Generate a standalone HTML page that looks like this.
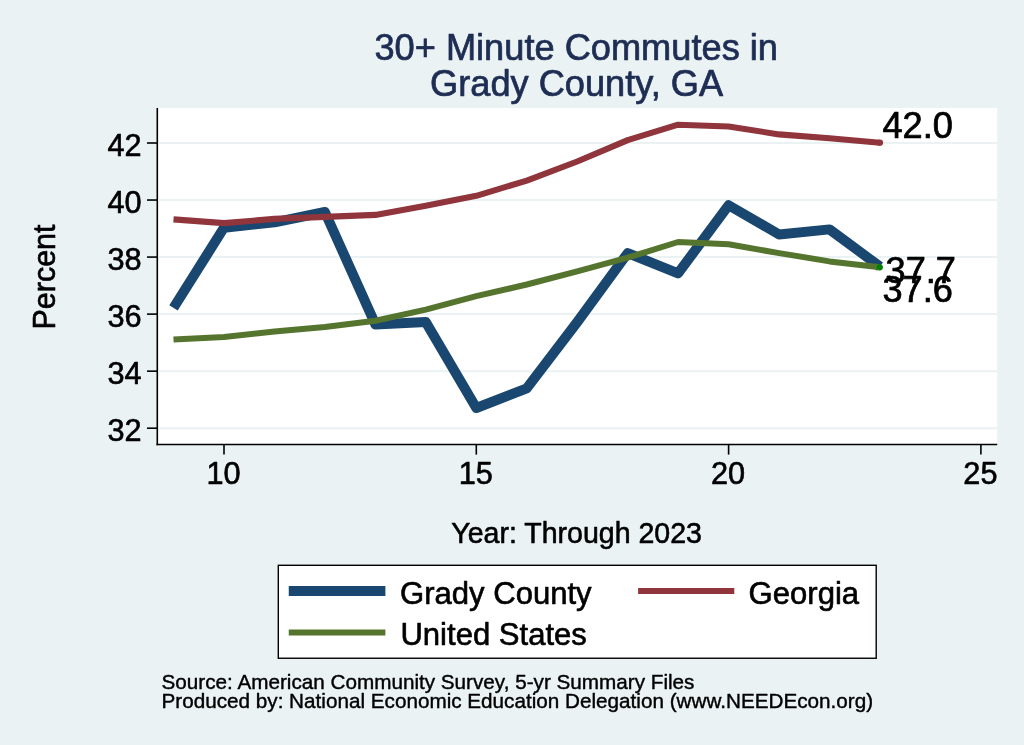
<!DOCTYPE html>
<html><head><meta charset="utf-8"><title>30+ Minute Commutes in Grady County, GA</title>
<style>
html,body{margin:0;padding:0;background:#eaf2f3;}
svg{display:block;font-family:"Liberation Sans",Arial,Helvetica,sans-serif;}
</style></head><body>
<svg width="1024" height="745" viewBox="0 0 1024 745">
<rect width="1024" height="745" fill="#eaf2f3"/>
<rect x="158" y="108" width="839.2" height="336.4" fill="#ffffff"/>
<g stroke="#eaf2f3" stroke-width="2"><line x1="159.2" x2="997.1" y1="428.20" y2="428.20"/><line x1="159.2" x2="997.1" y1="371.16" y2="371.16"/><line x1="159.2" x2="997.1" y1="314.12" y2="314.12"/><line x1="159.2" x2="997.1" y1="257.08" y2="257.08"/><line x1="159.2" x2="997.1" y1="200.04" y2="200.04"/><line x1="159.2" x2="997.1" y1="143.00" y2="143.00"/></g>
<polyline points="173.5,307.8 224.0,227.7 274.5,222.3 324.9,212.0 375.4,324.4 425.8,322.1 476.3,408.0 526.8,388.3 577.2,322.1 627.7,253.1 678.1,273.3 728.6,205.2 779.1,234.5 829.5,229.4 880.0,266.6" fill="none" stroke="#1a476f" stroke-width="10" stroke-linejoin="round"/>
<polyline points="173.5,219.4 224.0,223.1 274.5,218.9 324.9,216.9 375.4,214.9 425.8,205.7 476.3,195.8 526.8,180.6 577.2,161.5 627.7,140.1 678.1,124.7 728.6,126.5 779.1,134.4 829.5,138.2 880.0,142.7" fill="none" stroke="#90353b" stroke-width="6.1" stroke-linejoin="round"/>
<polyline points="173.5,339.5 224.0,336.9 274.5,331.5 324.9,327.0 375.4,320.7 425.8,309.6 476.3,296.2 526.8,284.5 577.2,271.3 627.7,257.7 678.1,242.0 728.6,244.2 779.1,253.1 829.5,261.4 880.0,267.3" fill="none" stroke="#55752f" stroke-width="6" stroke-linejoin="round"/>
<circle cx="880.0" cy="142.7" r="3.1" fill="#90353b"/>
<circle cx="879.8" cy="267.3" r="3.1" fill="#008000"/>
<g stroke="#000" stroke-width="1.6">
<line x1="157.3" x2="157.3" y1="108" y2="445.2"/>
<line x1="156.5" x2="997.2" y1="444.5" y2="444.5" stroke-width="1.4"/>
<line x1="147" x2="157.3" y1="428.20" y2="428.20"/><line x1="147" x2="157.3" y1="371.16" y2="371.16"/><line x1="147" x2="157.3" y1="314.12" y2="314.12"/><line x1="147" x2="157.3" y1="257.08" y2="257.08"/><line x1="147" x2="157.3" y1="200.04" y2="200.04"/><line x1="147" x2="157.3" y1="143.00" y2="143.00"/><line y1="444.4" y2="454.6" x1="224.00" x2="224.00"/><line y1="444.4" y2="454.6" x1="476.30" x2="476.30"/><line y1="444.4" y2="454.6" x1="728.60" x2="728.60"/><line y1="444.4" y2="454.6" x1="980.90" x2="980.90"/>
</g>
<rect x="278.3" y="565.3" width="597.9" height="92.95" fill="#fff" stroke="#000" stroke-width="1.4"/>
<line x1="288.75" x2="385.4" y1="591" y2="591" stroke="#1a476f" stroke-width="10.2"/>
<line x1="288.75" x2="385.4" y1="632.5" y2="632.5" stroke="#55752f" stroke-width="6"/>
<line x1="638.1" x2="734.3" y1="591" y2="591" stroke="#90353b" stroke-width="6"/>
<text transform="translate(141.60,441.30) scale(1,1.02)" font-size="30.7" text-anchor="end" fill="#000" stroke="#000" stroke-width="0.61" stroke-linejoin="round">32</text><text transform="translate(141.60,384.26) scale(1,1.02)" font-size="30.7" text-anchor="end" fill="#000" stroke="#000" stroke-width="0.61" stroke-linejoin="round">34</text><text transform="translate(141.60,327.22) scale(1,1.02)" font-size="30.7" text-anchor="end" fill="#000" stroke="#000" stroke-width="0.61" stroke-linejoin="round">36</text><text transform="translate(141.60,270.18) scale(1,1.02)" font-size="30.7" text-anchor="end" fill="#000" stroke="#000" stroke-width="0.61" stroke-linejoin="round">38</text><text transform="translate(141.60,213.14) scale(1,1.02)" font-size="30.7" text-anchor="end" fill="#000" stroke="#000" stroke-width="0.61" stroke-linejoin="round">40</text><text transform="translate(141.60,156.10) scale(1,1.02)" font-size="30.7" text-anchor="end" fill="#000" stroke="#000" stroke-width="0.61" stroke-linejoin="round">42</text>
<text transform="translate(223.50,484.00) scale(1,1.02)" font-size="30.7" text-anchor="middle" fill="#000" stroke="#000" stroke-width="0.61" stroke-linejoin="round">10</text><text transform="translate(475.80,484.00) scale(1,1.02)" font-size="30.7" text-anchor="middle" fill="#000" stroke="#000" stroke-width="0.61" stroke-linejoin="round">15</text><text transform="translate(728.10,484.00) scale(1,1.02)" font-size="30.7" text-anchor="middle" fill="#000" stroke="#000" stroke-width="0.61" stroke-linejoin="round">20</text><text transform="translate(980.40,484.00) scale(1,1.02)" font-size="30.7" text-anchor="middle" fill="#000" stroke="#000" stroke-width="0.61" stroke-linejoin="round">25</text>
<text transform="translate(882.40,137.90) scale(1,1.0)" font-size="36.2" text-anchor="start" fill="#000" stroke="#000" stroke-width="0.72" stroke-linejoin="round">42.0</text><text transform="translate(885.50,282.50) scale(1,1.0)" font-size="36.2" text-anchor="start" fill="#000" stroke="#000" stroke-width="0.72" stroke-linejoin="round">37.7</text><text transform="translate(882.40,302.30) scale(1,1.0)" font-size="36.2" text-anchor="start" fill="#000" stroke="#000" stroke-width="0.72" stroke-linejoin="round">37.6</text><text transform="translate(55.3,277) rotate(-90) scale(1,1.02)" text-anchor="middle" font-size="30.5" fill="#000" stroke="#000" stroke-width="0.61" stroke-linejoin="round">Percent</text><text transform="translate(576.60,543.40) scale(1,1.02)" font-size="28.55" text-anchor="middle" fill="#000" stroke="#000" stroke-width="0.57" stroke-linejoin="round">Year: Through 2023</text><text transform="translate(576.20,59.90) scale(1,1.02)" font-size="36.22" text-anchor="middle" fill="#1e2d53" stroke="#1e2d53" stroke-width="0.72" stroke-linejoin="round">30+ Minute Commutes in</text><text transform="translate(576.60,95.90) scale(1,1.02)" font-size="36.22" text-anchor="middle" fill="#1e2d53" stroke="#1e2d53" stroke-width="0.72" stroke-linejoin="round">Grady County, GA</text><text transform="translate(400.00,603.80) scale(1,1.02)" font-size="31.07" text-anchor="start" fill="#000" stroke="#000" stroke-width="0.62" stroke-linejoin="round">Grady County</text><text transform="translate(400.40,645.00) scale(1,1.02)" font-size="31.07" text-anchor="start" fill="#000" stroke="#000" stroke-width="0.62" stroke-linejoin="round">United States</text><text transform="translate(748.60,603.80) scale(1,1.02)" font-size="31.07" text-anchor="start" fill="#000" stroke="#000" stroke-width="0.62" stroke-linejoin="round">Georgia</text><text transform="translate(161.50,688.80) scale(1,1.02)" font-size="20.7" text-anchor="start" fill="#000" stroke="#000" stroke-width="0.41" stroke-linejoin="round">Source: American Community Survey, 5-yr Summary Files</text><text transform="translate(161.50,708.40) scale(1,1.02)" font-size="20.7" text-anchor="start" fill="#000" stroke="#000" stroke-width="0.41" stroke-linejoin="round">Produced by: National Economic Education Delegation (www.NEEDEcon.org)</text>
</svg>
</body></html>
